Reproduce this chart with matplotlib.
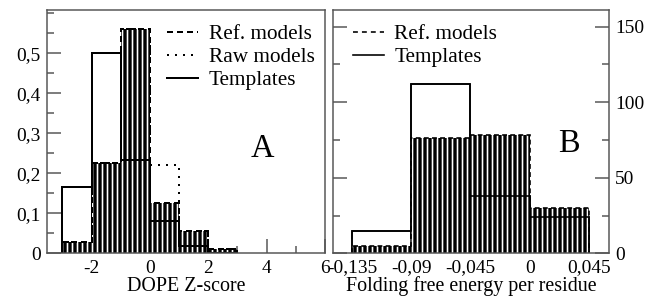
import matplotlib
matplotlib.use("Agg")
import matplotlib.pyplot as plt
from matplotlib.ticker import FixedLocator, MultipleLocator, FuncFormatter
import numpy as np

# ---- data ----
a_edges = [-3, -2, -1, 0, 1, 2, 3]
a_ref = [0.028, 0.225, 0.56, 0.125, 0.055, 0.01]
a_raw = [0.028, 0.225, 0.56, 0.22, 0.055, 0.01]
a_templates = [0.165, 0.5, 0.233, 0.08, 0.018, 0.0]

b_edges = [-0.135, -0.09, -0.045, 0.0, 0.045]
b_ref = [4.5, 76, 78, 30]
b_templates = [15, 112, 38, 24]

a_xticks = [-2, 0, 2, 4, 6]
a_yticks = [0, 0.1, 0.2, 0.3, 0.4, 0.5]
b_xticks = [-0.135, -0.09, -0.045, 0, 0.045]
b_yticks = [0, 50, 100, 150]

DPI = 90
plt.rcParams['font.family'] = ['Liberation Serif', 'DejaVu Serif']
plt.rcParams['hatch.linewidth'] = 1.3
SPINE = '#555555'
TICK_FS = 15.5
LEG_FS = 17
LAB_FS = 16

fig = plt.figure(figsize=(656 / DPI, 300 / DPI), dpi=DPI)
axA = fig.add_axes([47 / 656, 1 - 253.3 / 300, 278 / 656, 243.3 / 300])
axB = fig.add_axes([333 / 656, 1 - 253.3 / 300, 276 / 656, 243.3 / 300])


def comma(v, pos):
    s = ('%g' % v)
    return s.replace('.', ',')


def hist(ax, edges, ref, templates, raw=None, lw=1.6, ref_dash=(0, (3, 2))):
    edges = np.asarray(edges, float)
    left = edges[:-1]
    width = np.diff(edges)
    ax.bar(left, templates, width=width, align='edge', facecolor='white',
           edgecolor='black', linewidth=lw, zorder=1)
    ax.bar(left, ref, width=width, align='edge', facecolor='black',
           edgecolor='white', hatch='|||', linewidth=0, zorder=2)
    ax.stairs(ref, edges, color='black', linewidth=lw, linestyle=ref_dash, zorder=3)
    ax.stairs(templates, edges, color='black', linewidth=lw, linestyle='-', zorder=3)
    if raw is not None:
        ax.stairs(raw, edges, color='black', linewidth=lw, linestyle=(0, (1, 3)), zorder=3)


# ---- Panel A ----
hist(axA, a_edges, a_ref, a_templates, raw=a_raw)
axA.plot([], [], color='black', lw=1.6, ls=(0, (3, 2)), label='Ref. models')
axA.plot([], [], color='black', lw=1.6, ls=(0, (1, 3)), label='Raw models')
axA.plot([], [], color='black', lw=1.6, ls='-', label='Templates')
axA.set_xlim(-3.53, 6)
axA.set_ylim(0, 0.608)
axA.xaxis.set_major_locator(FixedLocator(a_xticks))
axA.xaxis.set_minor_locator(MultipleLocator(1))
axA.yaxis.set_major_locator(FixedLocator(a_yticks))
axA.yaxis.set_minor_locator(MultipleLocator(0.05))
axA.xaxis.set_major_formatter(FuncFormatter(comma))
axA.yaxis.set_major_formatter(FuncFormatter(comma))
axA.tick_params(which='both', direction='in', colors=SPINE, labelcolor='black',
                labelsize=TICK_FS, top=False, right=False, width=1.2)
axA.tick_params(which='major', length=11, pad=5)
axA.tick_params(which='minor', length=5.5)
axA.set_xlabel('DOPE Z-score', fontsize=LAB_FS, labelpad=0)
axA.text(0.773, 0.428, 'A', transform=axA.transAxes, fontsize=26,
         ha='center', va='center')
legA = axA.legend(loc='upper left', bbox_to_anchor=(0.432, 0.94), frameon=False,
                  fontsize=LEG_FS, handlelength=1.45, handletextpad=0.5,
                  labelspacing=0.14, borderpad=0, borderaxespad=0)

# ---- Panel B ----
hist(axB, b_edges, b_ref, b_templates, lw=1.3)
axB.plot([], [], color='black', lw=1.3, ls=(0, (3, 2.5)), label='Ref. models')
axB.plot([], [], color='black', lw=1.3, ls='-', label='Templates')
axB.set_xlim(-0.1494, 0.0602)
axB.set_ylim(0, 161)
axB.xaxis.set_major_locator(FixedLocator(b_xticks))
axB.yaxis.set_major_locator(FixedLocator(b_yticks))
axB.yaxis.set_minor_locator(MultipleLocator(25))
axB.xaxis.set_major_formatter(FuncFormatter(comma))
axB.yaxis.set_major_formatter(FuncFormatter(comma))
axB.tick_params(which='both', direction='in', colors=SPINE, labelcolor='black',
                labelsize=TICK_FS, top=False, left=True, right=True,
                labelleft=False, labelright=True, width=1.2)
axB.tick_params(which='major', length=11, pad=5)
axB.tick_params(which='minor', length=5.5)
axB.set_xlabel('Folding free energy per residue', fontsize=LAB_FS, labelpad=0)
axB.text(0.855, 0.45, 'B', transform=axB.transAxes, fontsize=26,
         ha='center', va='center')
legB = axB.legend(loc='upper left', bbox_to_anchor=(0.072, 0.94), frameon=False,
                  fontsize=LEG_FS, handlelength=1.45, handletextpad=0.5,
                  labelspacing=0.14, borderpad=0, borderaxespad=0)

for ax in (axA, axB):
    for s in ax.spines.values():
        s.set_color(SPINE)
        s.set_linewidth(1.2)
        s.set_zorder(5)

fig.savefig('out.png', dpi=DPI)
